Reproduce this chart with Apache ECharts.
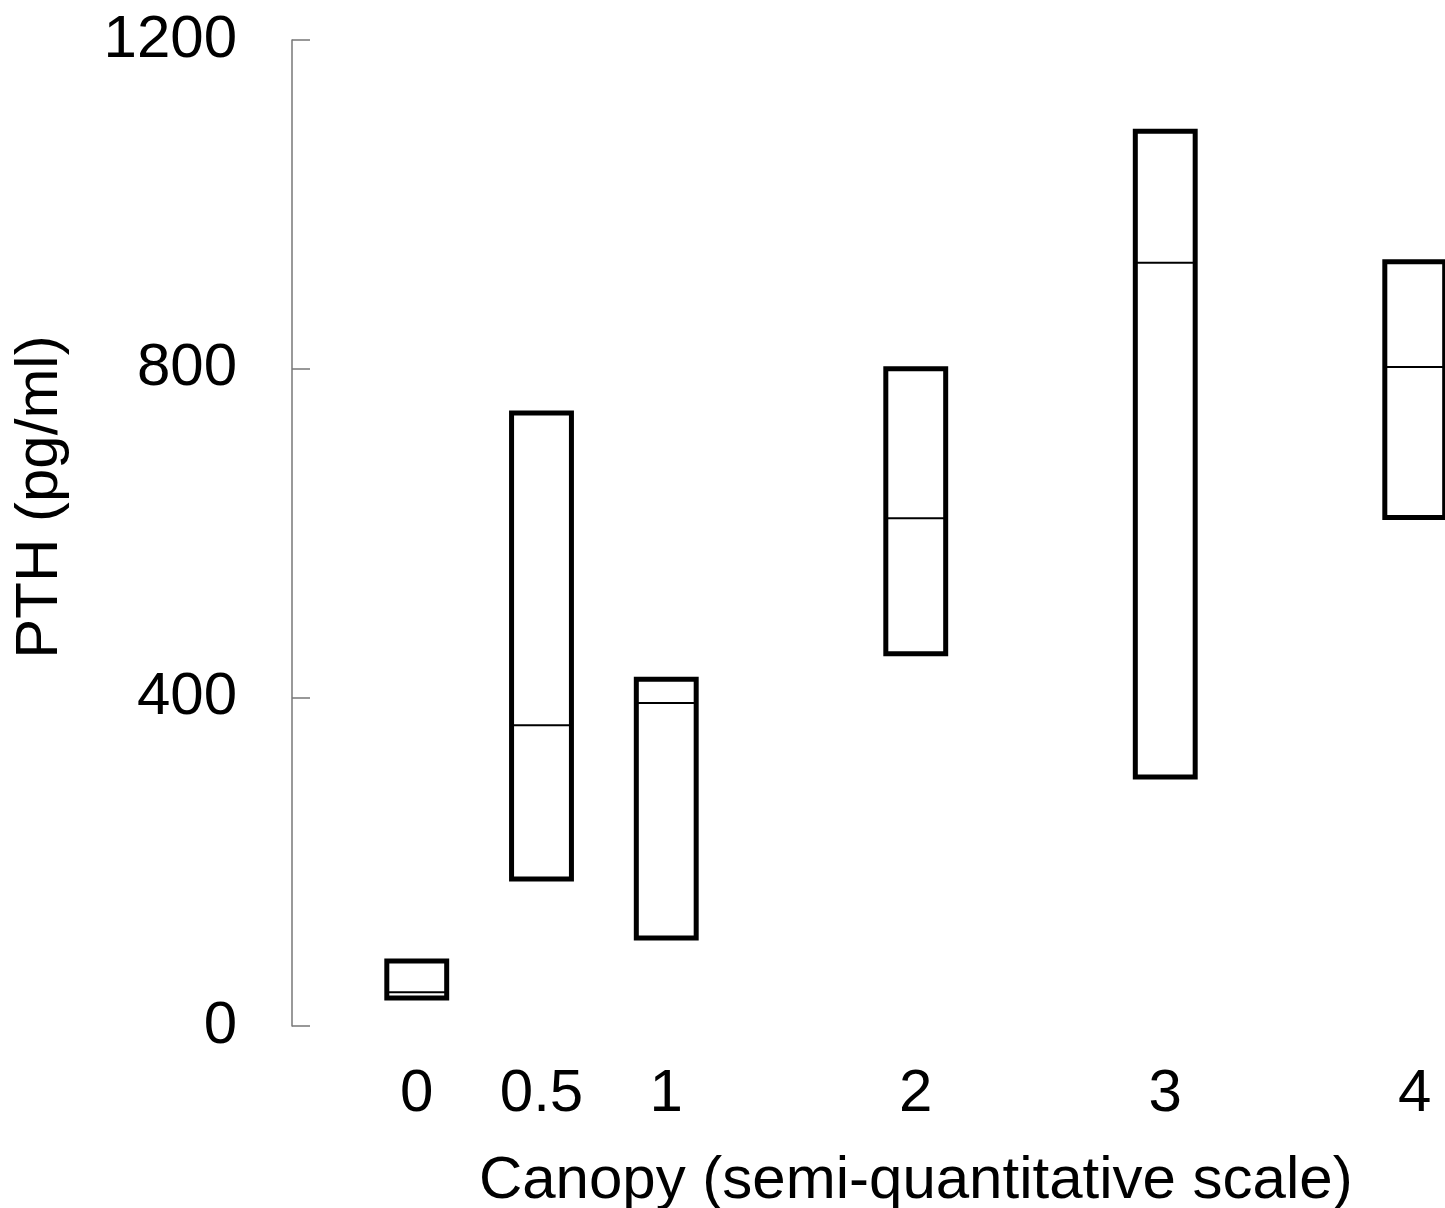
<!DOCTYPE html>
<html>
<head>
<meta charset="utf-8">
<script src="https://cdn.jsdelivr.net/npm/echarts@6/dist/echarts.min.js"></script>
<style>
html,body{margin:0;padding:0;background:#fff;}
#main{width:1445px;height:1208px;}
</style>
</head>
<body>
<div id="main"></div>
<script>
// Canopy score (x position), PTH low / median / high
const canopy = [0, 0.5, 1, 2, 3, 4];
const pthLow = [34, 179, 107, 453, 303, 619];
const pthMedian = [41, 366, 393, 618, 929, 802];
const pthHigh = [79, 746, 422, 800, 1089, 930];
const xTicks = [0, 0.5, 1, 2, 3, 4];
const yTicks = [0, 400, 800, 1200];

const data = canopy.map((c, i) => [c, pthLow[i], pthMedian[i], pthHigh[i]]);

const chart = echarts.init(document.getElementById('main'));
const font = 'Liberation Sans, Arial, sans-serif';
chart.setOption({
  animation: false,
  backgroundColor: '#fff',
  grid: { left: 292, top: 40, bottom: 182, right: -94.5, containLabel: false, outerBoundsMode: 'none' },
  xAxis: {
    type: 'value', min: -0.5, max: 4.5,
    name: 'Canopy (semi-quantitative scale)',
    nameLocation: 'middle', nameGap: 125,
    nameTextStyle: { fontSize: 60, fontFamily: font, color: '#000' },
    axisLine: { show: false },
    axisTick: { show: false },
    splitLine: { show: false },
    axisLabel: {
      customValues: xTicks, fontSize: 60, fontFamily: font, color: '#000', margin: 38,
      formatter: v => String(v)
    }
  },
  yAxis: {
    type: 'value', min: 0, max: 1200, interval: 400,
    name: 'PTH (pg/ml)',
    nameLocation: 'middle', nameGap: 222,
    nameTextStyle: { fontSize: 60, fontFamily: font, color: '#000', padding: [0, 0, 0, 72] },
    axisLine: { show: true, onZero: false, lineStyle: { color: '#777', width: 1.5 } },
    axisTick: { show: true, inside: true, length: 18, lineStyle: { color: '#777', width: 1.5 } },
    splitLine: { show: false },
    axisLabel: { fontSize: 60, fontFamily: font, color: '#000', margin: 55, formatter: v => String(v) }
  },
  series: [{
    type: 'custom',
    clip: false,
    data: data,
    encode: { x: 0, y: [1, 2, 3] },
    renderItem: function (params, api) {
      const x = api.value(0);
      const lo = api.coord([x, api.value(1)]);
      const md = api.coord([x, api.value(2)]);
      const hi = api.coord([x, api.value(3)]);
      const w = api.size([0.24, 0])[0];
      return {
        type: 'group',
        children: [
          { type: 'rect', shape: { x: lo[0] - w / 2, y: hi[1], width: w, height: lo[1] - hi[1] },
            style: { fill: 'none', stroke: '#000', lineWidth: 5 } },
          { type: 'line', shape: { x1: lo[0] - w / 2, y1: md[1], x2: lo[0] + w / 2, y2: md[1] },
            style: { stroke: '#000', lineWidth: 2 } }
        ]
      };
    }
  }]
});
</script>
</body>
</html>
